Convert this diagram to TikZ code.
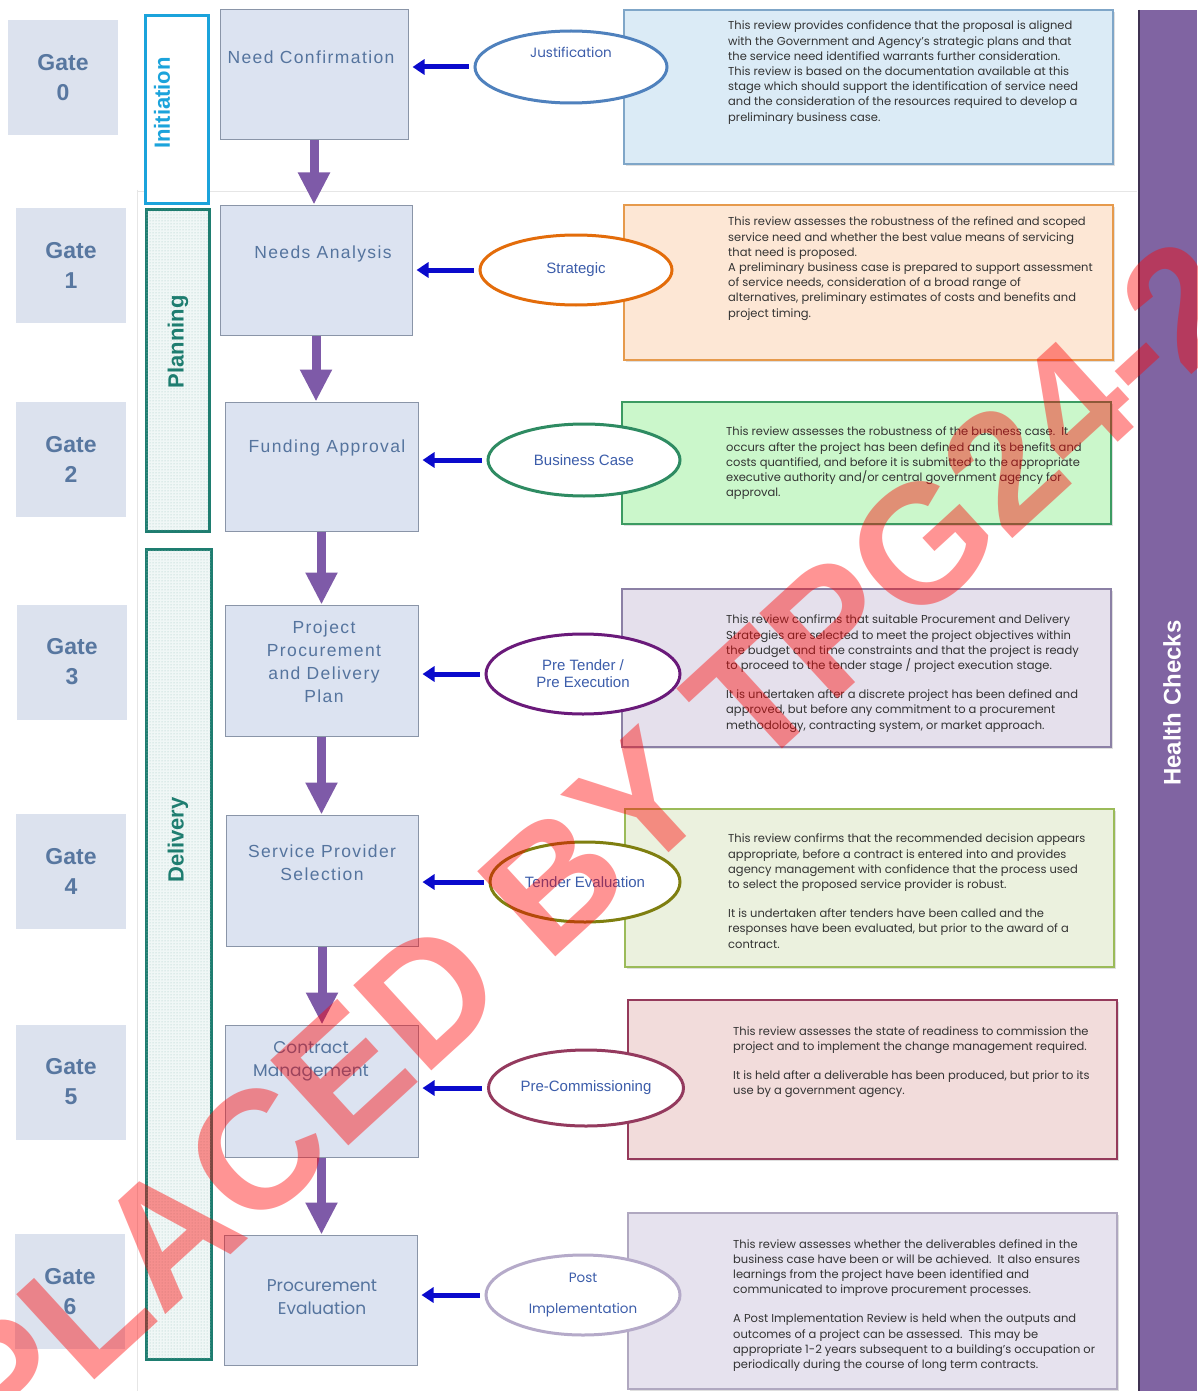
\documentclass[tikz,border=0pt]{standalone}
\usepackage{fontspec}
\setmainfont{Liberation Sans}
\newfontfamily\descfont{Poppins}
\newfontfamily\boxfont[LetterSpace=8]{Liberation Sans}
\newfontfamily\gothfont{Poppins}
\usetikzlibrary{shapes.geometric,arrows.meta,patterns,shadows}
\definecolor{gatefill}{HTML}{DCE2EE}
\definecolor{gatetext}{HTML}{5877A0}
\definecolor{procfill}{HTML}{DCE3F1}
\definecolor{procborder}{HTML}{8A95A8}
\definecolor{proctext}{HTML}{55749E}
\definecolor{initcol}{HTML}{1BA3DB}
\definecolor{tealcol}{HTML}{1E7D70}
\definecolor{tealfill}{HTML}{F0F7F6}
\definecolor{tealdot}{HTML}{9CC4BE}
\definecolor{arrowpurple}{HTML}{7E5AA8}
\definecolor{arrowblue}{HTML}{0A0ACC}
\definecolor{elltext}{HTML}{3C5DAA}
\definecolor{ecA}{HTML}{4F81BD}
\definecolor{ecB}{HTML}{E36C0A}
\definecolor{ecC}{HTML}{2E8B62}
\definecolor{ecD}{HTML}{6A1A7A}
\definecolor{ecE}{HTML}{7F7F10}
\definecolor{ecF}{HTML}{943A5E}
\definecolor{ecG}{HTML}{B5AAC9}
\definecolor{dfA}{HTML}{DBEBF6}\definecolor{ddA}{HTML}{7FA6C8}
\definecolor{dfB}{HTML}{FDE7D5}\definecolor{ddB}{HTML}{E69A4C}
\definecolor{dfC}{HTML}{CBF7CB}\definecolor{ddC}{HTML}{3C9B62}
\definecolor{dfD}{HTML}{E5E0EC}\definecolor{ddD}{HTML}{8B80A5}
\definecolor{dfE}{HTML}{EBF1DE}\definecolor{ddE}{HTML}{9BBB59}
\definecolor{dfF}{HTML}{F2DCDB}\definecolor{ddF}{HTML}{953A5B}
\definecolor{dfG}{HTML}{E6E2EE}\definecolor{ddG}{HTML}{B0A8C0}
\definecolor{desctext}{HTML}{333333}
\definecolor{healthfill}{HTML}{8064A2}
\definecolor{healthline}{HTML}{3F3151}
\definecolor{faintline}{HTML}{E6E6E6}
\begin{document}
\begin{tikzpicture}[x=1pt,y=-1pt,
  gatebox/.style={fill=gatefill, inner sep=0pt, minimum width=110pt, minimum height=115pt,
    font=\bfseries\fontsize{23}{30}\selectfont, text=gatetext, align=center},
  procbox/.style={draw=procborder, fill=procfill, line width=1pt, inner sep=0pt},
  proclabel/.style={text=proctext, font=\boxfont\fontsize{17.5}{23}\selectfont, align=center, inner sep=0pt},
  gothlabel/.style={text=proctext, font=\gothfont\fontsize{17}{23}\selectfont, align=center, inner sep=0pt},
  initbar/.style={draw=initcol, line width=3pt, fill=white, inner sep=0pt},
  tealbar/.style={draw=tealcol, line width=3pt, fill=tealfill, inner sep=0pt,
    postaction={pattern=dots, pattern color=tealdot}},
  phaselabel/.style={rotate=90, font=\bfseries\fontsize{22}{22}\selectfont, inner sep=0pt},
  reviewell/.style={ellipse, fill=white, line width=3pt, inner sep=0pt, text=elltext,
    font=\fontsize{15}{17}\selectfont, align=center},
  descbox/.style={line width=1.2pt, inner sep=0pt,
    drop shadow={shadow xshift=2pt, shadow yshift=-2pt, opacity=0.25}},
  desctxt/.style={anchor=north west, inner sep=0pt, align=left, text=desctext,
    font=\descfont\fontsize{11.5}{15.2}\selectfont},
  downarrow/.style={draw=arrowpurple, line width=9pt, -{Triangle[width=30pt,length=32pt]}},
  leftarrow/.style={draw=arrowblue, line width=5pt, -{Triangle[width=15pt,length=12pt]}}
]
\useasboundingbox (0,0) rectangle (1197,1391);
\fill[white] (0,0) rectangle (1197,1391);
\draw[faintline, line width=1pt] (137,190) -- (137,1391);
\draw[faintline, line width=1pt] (137,192) -- (1137,192);

% gates
\node[gatebox] (g0) at (63,77.5) {Gate\\0};
\node[gatebox] (g1) at (71,265.5) {Gate\\1};
\node[gatebox] (g2) at (71,459.5) {Gate\\2};
\node[gatebox] (g3) at (72,662) {Gate\\3};
\node[gatebox] (g4) at (71,871.5) {Gate\\4};
\node[gatebox] (g5) at (71,1082) {Gate\\5};
\node[gatebox] (g6) at (70,1291.5) {Gate\\6};

% phase bars
\node[initbar, minimum width=63pt, minimum height=187pt] (pI) at (176.5,109.5) {};
\node[tealbar, minimum width=63pt, minimum height=322pt] (pP) at (177.5,370) {};
\node[tealbar, minimum width=65pt, minimum height=810pt] (pD) at (178.5,954) {};
\node[phaselabel, text=initcol] (tI) at (162,103) {Initiation};
\node[phaselabel, text=tealcol] (tP) at (178,342) {Planning};
\node[phaselabel, text=tealcol] (tD) at (178,840) {Delivery};

% process boxes
\node[procbox, minimum width=188pt, minimum height=130pt] (b1) at (314,75) {};
\node[procbox, minimum width=192pt, minimum height=130pt] (b2) at (316,270) {};
\node[procbox, minimum width=193pt, minimum height=129pt] (b3) at (321.5,466.5) {};
\node[procbox, minimum width=193pt, minimum height=131pt] (b4) at (321.5,670.5) {};
\node[procbox, minimum width=192pt, minimum height=131pt] (b5) at (322,880.5) {};
\node[procbox, minimum width=193pt, minimum height=132pt] (b6) at (321.5,1091) {};
\node[procbox, minimum width=193pt, minimum height=130pt] (b7) at (320.5,1300) {};
\node[proclabel] (l1) at (311,57) {Need Confirmation};
\node[proclabel] (l2) at (323,254) {Needs Analysis};
\node[proclabel] (l3) at (327,448) {Funding Approval};
\node[proclabel] (l4) at (324,662) {Project\\Procurement\\and Delivery\\Plan};
\node[proclabel] (l5) at (322,863) {Service Provider\\Selection};
\node[gothlabel] (l6) at (311,1061) {Contract\\Management};
\node[gothlabel] (l7) at (322,1297) {Procurement\\Evaluation};

% down arrows
\draw[downarrow] (b1.south) -- (b1.south |- b2.north);
\draw[downarrow] (b2.south) -- (b2.south |- b3.north);
\draw[downarrow] (b3.south) -- (b3.south |- b4.north);
\draw[downarrow] (b4.south) -- (b4.south |- b5.north);
\draw[downarrow] (b5.south) -- (b5.south |- b6.north);
\draw[downarrow] (b6.south) -- (b6.south |- b7.north);

% description boxes
\node[descbox, fill=dfA, draw=ddA, minimum width=489pt, minimum height=154pt] (d1) at (868.5,87) {};
\node[descbox, fill=dfB, draw=ddB, minimum width=489pt, minimum height=155pt] (d2) at (868.5,282.5) {};
\node[descbox, fill=dfC, draw=ddC, minimum width=489pt, minimum height=122pt] (d3) at (866.5,463) {};
\node[descbox, fill=dfD, draw=ddD, minimum width=489pt, minimum height=158pt] (d4) at (866.5,668) {};
\node[descbox, fill=dfE, draw=ddE, minimum width=489pt, minimum height=158pt] (d5) at (869.5,888) {};
\node[descbox, fill=dfF, draw=ddF, minimum width=489pt, minimum height=159pt] (d6) at (872.5,1079.5) {};
\node[descbox, fill=dfG, draw=ddG, minimum width=489pt, minimum height=176pt] (d7) at (872.5,1301) {};

\node[desctxt] (t1) at (728,21) {This review provides confidence that the proposal is aligned\\
with the Government and Agency’s strategic plans and that\\
the service need identified warrants further consideration.\\
This review is based on the documentation available at this\\
stage which should support the identification of service need\\
and the consideration of the resources required to develop a\\
preliminary business case.};
\node[desctxt] (t2) at (728,217) {This review assesses the robustness of the refined and scoped\\
service need and whether the best value means of servicing\\
that need is proposed.\\
A preliminary business case is prepared to support assessment\\
of service needs, consideration of a broad range of\\
alternatives, preliminary estimates of costs and benefits and\\
project timing.};
\node[desctxt] (t3) at (726,427) {This review assesses the robustness of the business case.\ \ It\\
occurs after the project has been defined and its benefits and\\
costs quantified, and before it is submitted to the appropriate\\
executive authority and/or central government agency for\\
approval.};
\node[desctxt] (t4) at (726,615) {This review confirms that suitable Procurement and Delivery\\
Strategies are selected to meet the project objectives within\\
the budget and time constraints and that the project is ready\\
to proceed to the tender stage / project execution stage.\\[14pt]
It is undertaken after a discrete project has been defined and\\
approved, but before any commitment to a procurement\\
methodology, contracting system, or market approach.};
\node[desctxt] (t5) at (728,834) {This review confirms that the recommended decision appears\\
appropriate, before a contract is entered into and provides\\
agency management with confidence that the process used\\
to select the proposed service provider is robust.\\[14pt]
It is undertaken after tenders have been called and the\\
responses have been evaluated, but prior to the award of a\\
contract.};
\node[desctxt] (t6) at (733,1026) {This review assesses the state of readiness to commission the\\
project and to implement the change management required.\\[14pt]
It is held after a deliverable has been produced, but prior to its\\
use by a government agency.};
\node[desctxt] (t7) at (733,1239) {This review assesses whether the deliverables defined in the\\
business case have been or will be achieved.\ \ It also ensures\\
learnings from the project have been identified and\\
communicated to improve procurement processes.\\[14pt]
A Post Implementation Review is held when the outputs and\\
outcomes of a project can be assessed.\ \ This may be\\
appropriate 1-2 years subsequent to a building’s occupation or\\
periodically during the course of long term contracts.};

% ellipses
\node[reviewell, draw=ecA, minimum width=192pt, minimum height=72pt, font=\gothfont\fontsize{13.5}{16}\selectfont] (e1) at (571,67) {Justification\\[14pt]~};
\node[reviewell, draw=ecB, minimum width=192pt, minimum height=70pt] (e2) at (576,270) {Strategic};
\node[reviewell, draw=ecC, minimum width=192pt, minimum height=72pt] (e3) at (584,460) {Business Case};
\node[reviewell, draw=ecD, minimum width=194pt, minimum height=80pt] (e4) at (583,674) {Pre Tender /\\Pre Execution};
\node[reviewell, draw=ecE, minimum width=190pt, minimum height=80pt] (e5) at (585,882) {Tender Evaluation};
\node[reviewell, draw=ecF, minimum width=195pt, minimum height=76pt] (e6) at (586,1088) {Pre-Commissioning};
\node[reviewell, draw=ecG, minimum width=194pt, minimum height=80pt, font=\gothfont\fontsize{13.5}{16}\selectfont] (e7) at (583,1295) {Post\\[15pt]Implementation};

% left arrows
\draw[leftarrow] ([xshift=-5pt]e1.west) -- ([xshift=4pt]e1.west -| b1.east);
\draw[leftarrow] ([xshift=-5pt]e2.west) -- ([xshift=4pt]e2.west -| b2.east);
\draw[leftarrow] ([xshift=-5pt]e3.west) -- ([xshift=4pt]e3.west -| b3.east);
\draw[leftarrow] ([xshift=-5pt]e4.west) -- ([xshift=4pt]e4.west -| b4.east);
\draw[leftarrow] ([xshift=-5pt]e5.west) -- ([xshift=4pt]e5.west -| b5.east);
\draw[leftarrow] ([xshift=-5pt]e6.west) -- ([xshift=4pt]e6.west -| b6.east);
\draw[leftarrow] ([xshift=-5pt]e7.west) -- ([xshift=4pt]e7.west -| b7.east);

% health checks
\node[fill=healthfill, inner sep=0pt, minimum width=58pt, minimum height=1381pt] (hc) at (1168,700.5) {};
\draw[healthline, line width=1.5pt] (hc.north west) -- (hc.south west);
\node[rotate=90, text=white, font=\bfseries\fontsize{24}{24}\selectfont, inner sep=0pt] (hct) at (1172,703) {Health Checks};

% watermark
\begin{scope}
\clip (0,0) rectangle (1197,1391);
\node[rotate=42.5, text=red, text opacity=0.42, inner sep=0pt, font=\bfseries\fontsize{168}{168}\selectfont] (wm) at (505,925) {REPLACED BY TPG24-2};
\end{scope}
\end{tikzpicture}
\end{document}
